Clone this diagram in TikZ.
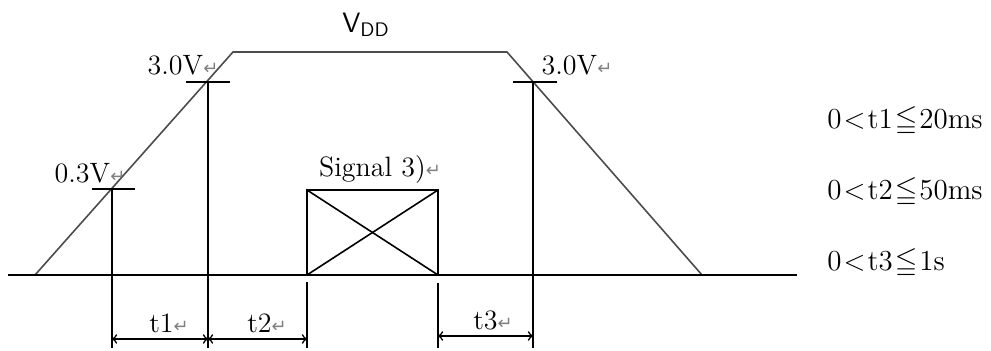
\documentclass[tikz,border=0pt]{standalone}
\usepackage{amssymb}
\usepackage{fontspec}
\newfontfamily\symfont{DejaVu Sans}
\newcommand{\rmark}{{\symfont\fontsize{9}{9}\selectfont\color{gray}\char"21B5}}

\begin{document}
\begin{tikzpicture}[x=0.5pt, y=-0.5pt,
    trap/.style={draw=black!70, line width=0.8pt},
    vline/.style={draw=black, line width=0.8pt},
    dim/.style={draw=black, line width=0.8pt, to-to},
    lbl/.style={inner sep=0pt, font=\fontsize{14}{16}\selectfont},
    cond/.style={inner sep=0pt, anchor=west, font=\fontsize{14.5}{17}\selectfont}]
                \useasboundingbox (0,0) rectangle (991,351);
                \coordinate (s0) at (35,275);
                \coordinate (s1) at (233,52);
                \coordinate (s2) at (507,52);
                \coordinate (s3) at (702,275);
                \coordinate (b0) at (8,275);
                \coordinate (b1) at (797,275);
                \coordinate (p1) at (112,189);
                \coordinate (p2) at (208,82);
                \coordinate (p3) at (533,82);
                \coordinate (g1) at (307,190);
                \coordinate (g2) at (438,275);
                \coordinate (e1) at (112,348);
                \coordinate (e2) at (208,348);
                \coordinate (e3) at (307,348);
                \coordinate (e4) at (438,348);
                \coordinate (e5) at (533,348);
                \draw [trap] (s0) -- (s1) -- (s2) -- (s3);
                \draw [black, line width=1pt] (b0) -- (b1);
                \draw [vline] ([xshift=-10pt]p1) -- ([xshift=11.5pt]p1);
                \draw [vline] ([xshift=-11pt]p2) -- ([xshift=11pt]p2);
                \draw [vline] ([xshift=-10pt]p3) -- ([xshift=12pt]p3);
                \draw [vline] (p1) -- (e1);
                \draw [vline] (p2) -- (e2);
                \draw [vline] (p3) -- (e5);
                \draw [vline] (307,282) -- (e3);
                \draw [vline] (438,283) -- (e4);
                \draw [vline] (g1) rectangle (g2);
                \draw [vline] (g1) -- (g2);
                \draw [vline] (g1 |- g2) -- (g2 |- g1);
                \draw [dim] (112,339) -- (208,339);
                \draw [dim] (208,339) -- (307,339);
                \draw [dim] (438,336) -- (533,336);
                \node [lbl] (vdd) at (366,25) {\sffamily V\textsubscript{DD}};
                \node [lbl] (v30a) at (183,65) {3.0V\rmark};
                \node [lbl] (v30b) at (577,65) {3.0V\rmark};
                \node [lbl] (v03) at (90,173) {0.3V\rmark};
                \node [lbl] (sig) at (380,170) {Signal 3)\rmark};
                \node [lbl] (t1) at (169,323) {t1\rmark};
                \node [lbl] (t2) at (267,323) {t2\rmark};
                \node [lbl] (t3) at (493,320) {t3\rmark};
                \node [cond] (c1) at (827,121) {0\kern1pt$<$\kern1pt t1\kern1pt$\leqq$\kern1pt 20ms};
                \node [cond] (c2) at (827,192) {0\kern1pt$<$\kern1pt t2\kern1pt$\leqq$\kern1pt 50ms};
                \node [cond] (c3) at (827,263) {0\kern1pt$<$\kern1pt t3\kern1pt$\leqq$\kern1pt 1s};
            \end{tikzpicture}
\end{document}
